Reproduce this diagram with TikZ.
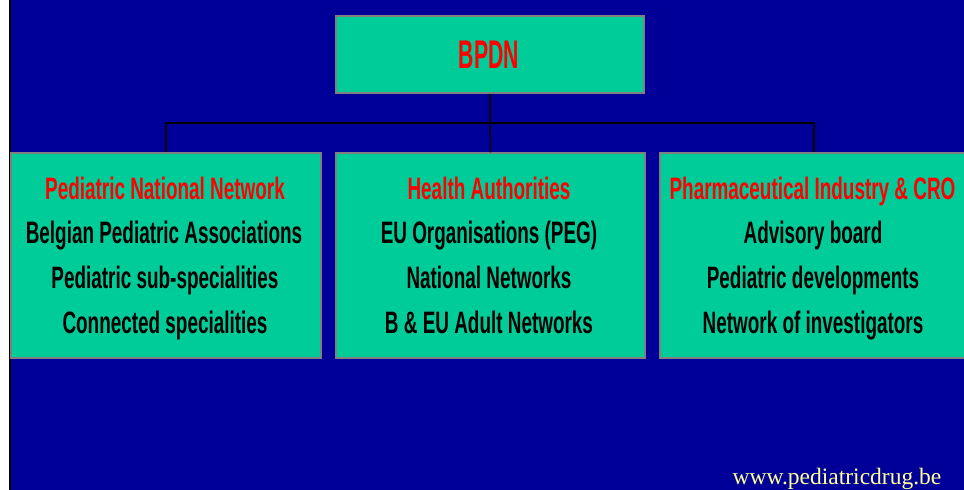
\documentclass[tikz,border=0pt]{standalone}
\usepackage{fontspec}
\setmainfont{Liberation Sans}
\newfontfamily\condfont[FakeStretch=0.61]{Liberation Sans}
\newfontfamily\titlefont[FakeStretch=0.53]{Liberation Sans}
\newfontfamily\urlfont{Liberation Serif}
\definecolor{bgblue}{RGB}{0,0,153}
\definecolor{boxgreen}{RGB}{0,204,153}
\definecolor{boxedge}{RGB}{128,128,128}
\definecolor{urlyellow}{RGB}{255,255,153}
\begin{document}
\begin{tikzpicture}[x=1pt,y=-1pt,
  panel/.style={draw=boxedge,line width=1.3pt,fill=boxgreen,inner sep=0pt},
  head/.style={anchor=base,inner sep=0pt,text=red,font=\condfont\bfseries\fontsize{31}{31}\selectfont},
  item/.style={anchor=base,inner sep=0pt,text=black,font=\condfont\bfseries\fontsize{31}{31}\selectfont},
  link/.style={draw=black,line width=1.4pt}]
\useasboundingbox (0,0) rectangle (964,490);
\fill[white] (0,0) rectangle (964,490);
\fill[bgblue] (10,0) rectangle (964,490);
\draw[black,line width=1.4pt] (10,0) -- (10,490);
% boxes
\node[panel,minimum width=308pt,minimum height=77pt] (bpdn) at (490,54.5) {};
\node[panel,minimum width=310pt,minimum height=205pt] (left) at (166,255.5) {};
\node[panel,minimum width=309pt,minimum height=205pt] (mid) at (490.5,255.5) {};
\node[panel,minimum width=308pt,minimum height=205pt] (right) at (814,255.5) {};
% connectors
\coordinate (hub) at (490,123);
\draw[link] (bpdn.south) -- (hub);
\draw[link] (hub) -| (left.north);
\draw[link] (hub) -- (mid.north);
\draw[link] (hub) -| (right.north);
% title
\node[anchor=base,inner sep=0pt,text=red,font=\titlefont\bfseries\fontsize{40}{40}\selectfont] (bpdnt) at (489,68) {BPDN};
% left texts
\node[head] (lt) at (165,199) {Pediatric National Network};
\node[item] (l1) at (164,243) {Belgian Pediatric Associations};
\node[item] (l2) at (165,288) {Pediatric sub-specialities};
\node[item] (l3) at (165,333) {Connected specialities};
% middle texts
\node[head] (mt) at (489,199) {Health Authorities};
\node[item] (m1) at (489,243) {EU Organisations (PEG)};
\node[item] (m2) at (489,288) {National Networks};
\node[item] (m3) at (489,333) {B \& EU Adult Networks};
% right texts
\node[head] (rt) at (812.5,199) {Pharmaceutical Industry \& CRO};
\node[item] (r1) at (813,243) {Advisory board};
\node[item] (r2) at (813,288) {Pediatric developments};
\node[item] (r3) at (813,333) {Network of investigators};
% url
\node[anchor=base,inner sep=0pt,text=urlyellow,font=\urlfont\fontsize{23.5}{23.5}\selectfont] (url) at (837,484) {www.pediatricdrug.be};
\end{tikzpicture}
\end{document}
